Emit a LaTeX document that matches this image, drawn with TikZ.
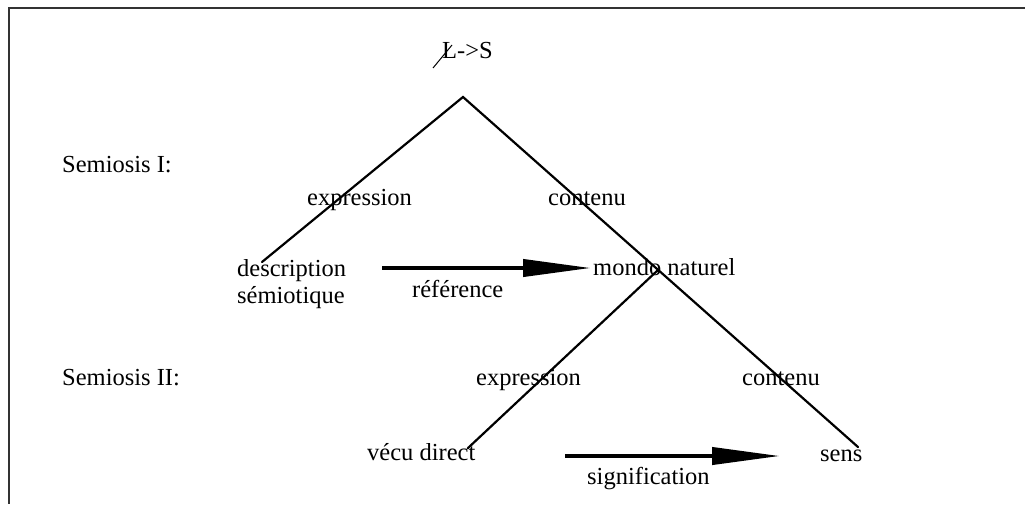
\documentclass[tikz,border=0pt]{standalone}
\usepackage{fontspec}
\setmainfont{Liberation Serif}
\usetikzlibrary{arrows.meta}
\begin{document}
\begin{tikzpicture}[x=1pt,y=-1pt,
  lbl/.style={anchor=base west,inner sep=0pt,font=\fontsize{24.5}{29}\selectfont},
  branch/.style={line width=2.2pt,line cap=round},
  bigarrow/.style={line width=4pt,-{Triangle[length=68pt,width=17pt]}},
  frameline/.style={line width=2pt,draw=black!80}]
\useasboundingbox (0,0) rectangle (1025,504);
% frame
\draw[frameline] (1025,8) -- (9,8) -- (9,504);
% labels
\node[lbl] (ls) at (442,58) {L->S};
\node[lbl] (sem1) at (62,172) {Semiosis I:};
\node[lbl] (exp1) at (307,205) {expression};
\node[lbl] (con1) at (548,205) {contenu};
\node[lbl] (desc) at (237,276) {description};
\node[lbl] (semio) at (237,303) {sémiotique};
\node[lbl] (ref) at (412,297) {référence};
\node[lbl] (mondo) at (593,275) {mondo naturel};
\node[lbl] (sem2) at (62,385) {Semiosis II:};
\node[lbl] (exp2) at (476,385) {expression};
\node[lbl] (con2) at (742,385) {contenu};
\node[lbl] (vecu) at (367,460) {vécu direct};
\node[lbl] (sens) at (820,461) {sens};
\node[lbl] (sig) at (587,484) {signification};
% slash through L
\coordinate (slA) at (433,68);
\coordinate (slB) at (452,45);
\draw[line width=1pt] (slA) -- (slB);
% tree coordinates
\coordinate (apex) at (463,97);
\coordinate (dEnd) at (262,262);
\coordinate (sEnd) at (858,447);
\coordinate (mApex) at (658,270);
\coordinate (vEnd) at (468,448);
\draw[branch] (dEnd) -- (apex) -- (sEnd);
\draw[branch] (mApex) -- (vEnd);
% arrows
\coordinate (a1s) at (382,268);
\coordinate (a1e) at (591,268);
\coordinate (a2s) at (565,456);
\coordinate (a2e) at (780,456);
\draw[bigarrow] (a1s) -- (a1e);
\draw[bigarrow] (a2s) -- (a2e);
\end{tikzpicture}
\end{document}
